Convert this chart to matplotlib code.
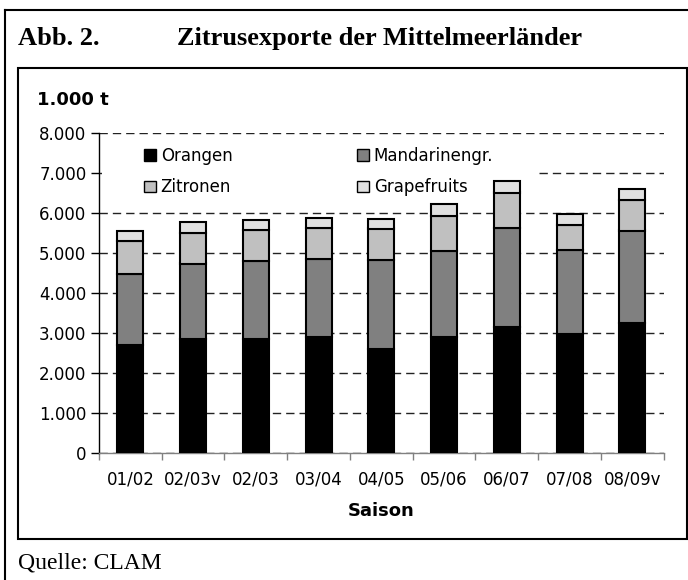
import matplotlib
matplotlib.use('Agg')
import matplotlib.pyplot as plt
import matplotlib.patches as mpatches
from matplotlib.lines import Line2D
import numpy as np

# Daten (1.000 t)
saisons = ['01/02', '02/03v', '02/03', '03/04', '04/05', '05/06', '06/07', '07/08', '08/09v']
orangen = [2690, 2830, 2840, 2900, 2600, 2900, 3140, 2970, 3240]
mandarinen = [1780, 1895, 1960, 1930, 2210, 2130, 2470, 2090, 2310]
zitronen = [810, 765, 760, 790, 790, 880, 890, 630, 760]
grapefruits = [250, 260, 240, 240, 250, 310, 290, 270, 280]

serien = ['Orangen', 'Mandarinengr.', 'Zitronen', 'Grapefruits']
farben = ['#000000', '#808080', '#c0c0c0', '#e0e0e0']
yticks = [0, 1000, 2000, 3000, 4000, 5000, 6000, 7000, 8000]
ytick_labels = ['0', '1.000', '2.000', '3.000', '4.000', '5.000', '6.000', '7.000', '8.000']

W, H = 688, 580
fig = plt.figure(figsize=(W / 100, H / 100), dpi=100)
ax = fig.add_axes([99 / W, 1 - 452.5 / H, (663.7 - 99) / W, 320 / H])

x = np.arange(len(saisons))
bottom = np.zeros(len(saisons))
handles = []
for name, werte, farbe in zip(serien, [orangen, mandarinen, zitronen, grapefruits], farben):
    ax.bar(x, werte, 0.415, bottom=bottom, color=farbe, edgecolor='black', linewidth=1.5, zorder=3)
    bottom += np.array(werte)
    handles.append(mpatches.Patch(facecolor=farbe, edgecolor='black', linewidth=1.0, label=name))

ax.set_xlim(-0.5, len(saisons) - 0.5)
ax.set_ylim(0, 8000)
ax.set_yticks(yticks)
ax.set_yticklabels(ytick_labels, fontsize=12)
ax.set_xticks(x)
ax.set_xticklabels(saisons, fontsize=12)
ax.set_xticks(np.arange(len(saisons) + 1) - 0.5, minor=True)
ax.tick_params(axis='x', which='major', length=0, pad=13)
ax.tick_params(axis='x', which='minor', length=5, width=1, color='#808080', direction='out')
ax.tick_params(axis='y', length=6, width=1, color='black', direction='out', pad=3)

ax.set_axisbelow(True)
ax.yaxis.grid(True, color='#222222', linewidth=1, linestyle=(0, (6, 3.6)), zorder=0.5)
for s in ['top', 'right']:
    ax.spines[s].set_visible(False)
ax.spines['left'].set_color('black')
ax.spines['bottom'].set_color('#808080')
ax.spines['left'].set_linewidth(1)
ax.spines['bottom'].set_linewidth(1)

ax.set_xlabel('Saison', fontsize=13, fontweight='bold', labelpad=10)

# weißer Hintergrund der Legende (verdeckt Gitterlinien)
ax.add_patch(mpatches.Rectangle((0.005, 0.77), 0.767, 0.22, transform=ax.transAxes,
                                facecolor='white', edgecolor='none', zorder=1))
order = [0, 2, 1, 3]
leg = ax.legend([handles[i] for i in order], [serien[i] for i in order], ncol=2,
                loc='upper left', bbox_to_anchor=(144.3 / W, 1 - 147 / H),
                bbox_transform=fig.transFigure, frameon=False, fontsize=12,
                handlelength=0.72, handleheight=0.72, handletextpad=0.26,
                columnspacing=7.5, labelspacing=0.8, borderpad=0, borderaxespad=0)

# Titel und Texte
fig.text(18 / W, 1 - 45 / H, 'Abb. 2.', fontsize=19, fontweight='bold',
         family='Liberation Serif', va='baseline')
fig.text(177 / W, 1 - 45 / H, 'Zitrusexporte der Mittelmeerländer', fontsize=19,
         fontweight='bold', family='Liberation Serif', va='baseline')
fig.text(37 / W, 1 - 105 / H, '1.000 t', fontsize=13, fontweight='bold', va='baseline')
fig.text(18 / W, 1 - 569 / H, 'Quelle: CLAM', fontsize=17, family='Liberation Serif',
         va='baseline')

# Rahmen
lw = 1.5
fig.add_artist(Line2D([5 / W, 1], [1 - 10 / H, 1 - 10 / H], color='black', linewidth=lw,
                      transform=fig.transFigure))
fig.add_artist(Line2D([5 / W, 5 / W], [1 - 10 / H, 0], color='black', linewidth=lw,
                      transform=fig.transFigure))
fig.add_artist(mpatches.Rectangle((17.7 / W, 1 - 538.7 / H), (686.5 - 17.7) / W,
                                  (538.7 - 68) / H, transform=fig.transFigure,
                                  facecolor='none', edgecolor='black', linewidth=lw))

fig.savefig('out.png', dpi=100)
